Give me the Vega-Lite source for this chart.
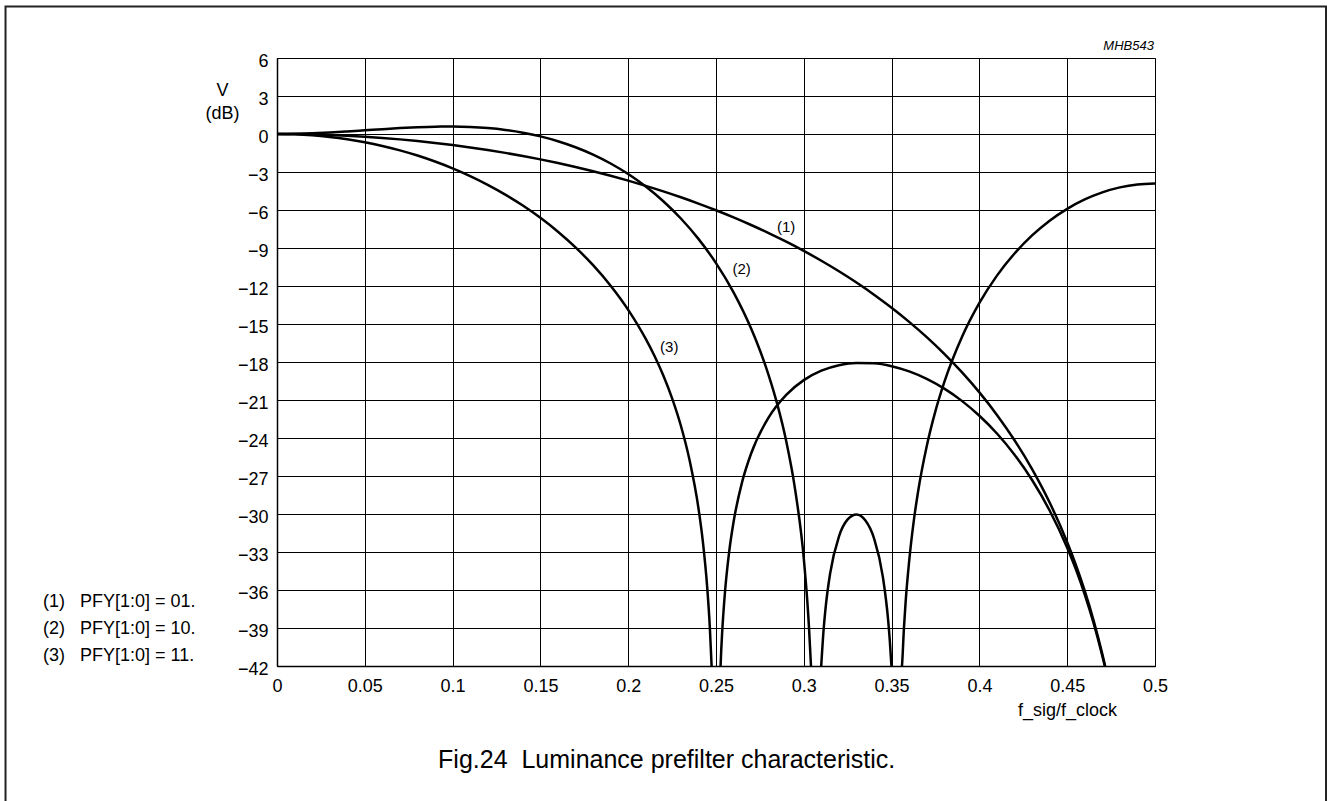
{
  "$schema": "https://vega.github.io/schema/vega-lite/v6.json",
  "width": 878,
  "height": 608,
  "autosize": {"type": "none"},
  "padding": {"left": 277, "top": 58, "right": 172, "bottom": 135},
  "background": "white",
  "config": {
    "font": "Liberation Sans",
    "view": {"stroke": "black", "strokeWidth": 1},
    "axis": {
      "labelFont": "Liberation Sans",
      "titleFont": "Liberation Sans",
      "labelColor": "#000",
      "titleColor": "#000",
      "labelFontSize": 18,
      "titleFontSize": 18,
      "titleFontWeight": "normal",
      "ticks": false,
      "tickSize": 0,
      "domainColor": "#000",
      "domainWidth": 1.5,
      "grid": true,
      "gridColor": "#000",
      "gridOpacity": 1,
      "gridWidth": 1,
      "labelOverlap": false
    }
  },
  "layer": [
    {
      "data": {"values": [{}]},
      "mark": {"type": "rect", "filled": false, "stroke": "#222", "strokeWidth": 2, "clip": false},
      "encoding": {
        "x": {"datum": -0.1546, "type": "quantitative"},
        "x2": {"datum": 0.5974},
        "y": {"datum": 10.07, "type": "quantitative"},
        "y2": {"datum": -53.4}
      }
    },
    {
      "data": {
        "values": [
          {"curve": "1", "seg": "1", "f": 0, "v": 0},
          {"curve": "1", "seg": "1", "f": 0.01, "v": -0.009},
          {"curve": "1", "seg": "1", "f": 0.02, "v": -0.034},
          {"curve": "1", "seg": "1", "f": 0.03, "v": -0.077},
          {"curve": "1", "seg": "1", "f": 0.04, "v": -0.138},
          {"curve": "1", "seg": "1", "f": 0.05, "v": -0.215},
          {"curve": "1", "seg": "1", "f": 0.06, "v": -0.31},
          {"curve": "1", "seg": "1", "f": 0.07, "v": -0.424},
          {"curve": "1", "seg": "1", "f": 0.08, "v": -0.554},
          {"curve": "1", "seg": "1", "f": 0.09, "v": -0.704},
          {"curve": "1", "seg": "1", "f": 0.10, "v": -0.872},
          {"curve": "1", "seg": "1", "f": 0.11, "v": -1.059},
          {"curve": "1", "seg": "1", "f": 0.12, "v": -1.265},
          {"curve": "1", "seg": "1", "f": 0.13, "v": -1.491},
          {"curve": "1", "seg": "1", "f": 0.14, "v": -1.738},
          {"curve": "1", "seg": "1", "f": 0.15, "v": -2.005},
          {"curve": "1", "seg": "1", "f": 0.16, "v": -2.294},
          {"curve": "1", "seg": "1", "f": 0.17, "v": -2.605},
          {"curve": "1", "seg": "1", "f": 0.18, "v": -2.94},
          {"curve": "1", "seg": "1", "f": 0.19, "v": -3.298},
          {"curve": "1", "seg": "1", "f": 0.20, "v": -3.682},
          {"curve": "1", "seg": "1", "f": 0.21, "v": -4.092},
          {"curve": "1", "seg": "1", "f": 0.22, "v": -4.529},
          {"curve": "1", "seg": "1", "f": 0.23, "v": -4.995},
          {"curve": "1", "seg": "1", "f": 0.24, "v": -5.492},
          {"curve": "1", "seg": "1", "f": 0.25, "v": -6.021},
          {"curve": "1", "seg": "1", "f": 0.26, "v": -6.584},
          {"curve": "1", "seg": "1", "f": 0.27, "v": -7.184},
          {"curve": "1", "seg": "1", "f": 0.28, "v": -7.823},
          {"curve": "1", "seg": "1", "f": 0.29, "v": -8.504},
          {"curve": "1", "seg": "1", "f": 0.30, "v": -9.231},
          {"curve": "1", "seg": "1", "f": 0.31, "v": -10.008},
          {"curve": "1", "seg": "1", "f": 0.32, "v": -10.839},
          {"curve": "1", "seg": "1", "f": 0.33, "v": -11.73},
          {"curve": "1", "seg": "1", "f": 0.34, "v": -12.687},
          {"curve": "1", "seg": "1", "f": 0.35, "v": -13.718},
          {"curve": "1", "seg": "1", "f": 0.36, "v": -14.833},
          {"curve": "1", "seg": "1", "f": 0.37, "v": -16.041},
          {"curve": "1", "seg": "1", "f": 0.38, "v": -17.359},
          {"curve": "1", "seg": "1", "f": 0.39, "v": -18.805},
          {"curve": "1", "seg": "1", "f": 0.40, "v": -20.401},
          {"curve": "1", "seg": "1", "f": 0.41, "v": -22.176},
          {"curve": "1", "seg": "1", "f": 0.42, "v": -24.174},
          {"curve": "1", "seg": "1", "f": 0.43, "v": -26.45},
          {"curve": "1", "seg": "1", "f": 0.44, "v": -29.091},
          {"curve": "1", "seg": "1", "f": 0.45, "v": -32.227},
          {"curve": "1", "seg": "1", "f": 0.455, "v": -34.04},
          {"curve": "1", "seg": "1", "f": 0.46, "v": -36.077},
          {"curve": "1", "seg": "1", "f": 0.465, "v": -38.386},
          {"curve": "1", "seg": "1", "f": 0.47, "v": -41.055},
          {"curve": "1", "seg": "1", "f": 0.4716, "v": -42},

          {"curve": "2", "seg": "2a", "f": 0, "v": 0},
          {"curve": "2", "seg": "2a", "f": 0.01, "v": 0.014},
          {"curve": "2", "seg": "2a", "f": 0.02, "v": 0.054},
          {"curve": "2", "seg": "2a", "f": 0.03, "v": 0.117},
          {"curve": "2", "seg": "2a", "f": 0.04, "v": 0.197},
          {"curve": "2", "seg": "2a", "f": 0.05, "v": 0.288},
          {"curve": "2", "seg": "2a", "f": 0.06, "v": 0.381},
          {"curve": "2", "seg": "2a", "f": 0.07, "v": 0.467},
          {"curve": "2", "seg": "2a", "f": 0.08, "v": 0.536},
          {"curve": "2", "seg": "2a", "f": 0.09, "v": 0.58},
          {"curve": "2", "seg": "2a", "f": 0.10, "v": 0.589},
          {"curve": "2", "seg": "2a", "f": 0.11, "v": 0.555},
          {"curve": "2", "seg": "2a", "f": 0.12, "v": 0.468},
          {"curve": "2", "seg": "2a", "f": 0.13, "v": 0.32},
          {"curve": "2", "seg": "2a", "f": 0.14, "v": 0.103},
          {"curve": "2", "seg": "2a", "f": 0.15, "v": -0.19},
          {"curve": "2", "seg": "2a", "f": 0.16, "v": -0.571},
          {"curve": "2", "seg": "2a", "f": 0.17, "v": -1.047},
          {"curve": "2", "seg": "2a", "f": 0.18, "v": -1.629},
          {"curve": "2", "seg": "2a", "f": 0.19, "v": -2.33},
          {"curve": "2", "seg": "2a", "f": 0.20, "v": -3.164},
          {"curve": "2", "seg": "2a", "f": 0.21, "v": -4.149},
          {"curve": "2", "seg": "2a", "f": 0.22, "v": -5.308},
          {"curve": "2", "seg": "2a", "f": 0.23, "v": -6.672},
          {"curve": "2", "seg": "2a", "f": 0.24, "v": -8.28},
          {"curve": "2", "seg": "2a", "f": 0.25, "v": -10.194},
          {"curve": "2", "seg": "2a", "f": 0.26, "v": -12.504},
          {"curve": "2", "seg": "2a", "f": 0.27, "v": -15.361},
          {"curve": "2", "seg": "2a", "f": 0.275, "v": -17.075},
          {"curve": "2", "seg": "2a", "f": 0.28, "v": -19.053},
          {"curve": "2", "seg": "2a", "f": 0.285, "v": -21.389},
          {"curve": "2", "seg": "2a", "f": 0.29, "v": -24.253},
          {"curve": "2", "seg": "2a", "f": 0.295, "v": -28.014},
          {"curve": "2", "seg": "2a", "f": 0.30, "v": -33.52},
          {"curve": "2", "seg": "2a", "f": 0.3025, "v": -37.91},
          {"curve": "2", "seg": "2a", "f": 0.303, "v": -39.07},
          {"curve": "2", "seg": "2a", "f": 0.3041, "v": -42},

          {"curve": "2", "seg": "2b", "f": 0.3099, "v": -42},
          {"curve": "2", "seg": "2b", "f": 0.31, "v": -41.79},
          {"curve": "2", "seg": "2b", "f": 0.311, "v": -39.64},
          {"curve": "2", "seg": "2b", "f": 0.3125, "v": -37.3},
          {"curve": "2", "seg": "2b", "f": 0.315, "v": -34.69},
          {"curve": "2", "seg": "2b", "f": 0.32, "v": -31.78},
          {"curve": "2", "seg": "2b", "f": 0.325, "v": -30.43},
          {"curve": "2", "seg": "2b", "f": 0.33, "v": -30.04},
          {"curve": "2", "seg": "2b", "f": 0.335, "v": -30.5},
          {"curve": "2", "seg": "2b", "f": 0.34, "v": -31.93},
          {"curve": "2", "seg": "2b", "f": 0.345, "v": -34.94},
          {"curve": "2", "seg": "2b", "f": 0.348, "v": -38.33},
          {"curve": "2", "seg": "2b", "f": 0.349, "v": -40.04},
          {"curve": "2", "seg": "2b", "f": 0.3499, "v": -42},

          {"curve": "2", "seg": "2c", "f": 0.3559, "v": -42},
          {"curve": "2", "seg": "2c", "f": 0.356, "v": -41.82},
          {"curve": "2", "seg": "2c", "f": 0.357, "v": -39.07},
          {"curve": "2", "seg": "2c", "f": 0.358, "v": -36.92},
          {"curve": "2", "seg": "2c", "f": 0.36, "v": -33.72},
          {"curve": "2", "seg": "2c", "f": 0.3625, "v": -30.68},
          {"curve": "2", "seg": "2c", "f": 0.365, "v": -28.3},
          {"curve": "2", "seg": "2c", "f": 0.37, "v": -24.65},
          {"curve": "2", "seg": "2c", "f": 0.375, "v": -21.86},
          {"curve": "2", "seg": "2c", "f": 0.38, "v": -19.595},
          {"curve": "2", "seg": "2c", "f": 0.39, "v": -16.045},
          {"curve": "2", "seg": "2c", "f": 0.40, "v": -13.335},
          {"curve": "2", "seg": "2c", "f": 0.41, "v": -11.181},
          {"curve": "2", "seg": "2c", "f": 0.42, "v": -9.435},
          {"curve": "2", "seg": "2c", "f": 0.43, "v": -8.008},
          {"curve": "2", "seg": "2c", "f": 0.44, "v": -6.844},
          {"curve": "2", "seg": "2c", "f": 0.45, "v": -5.906},
          {"curve": "2", "seg": "2c", "f": 0.46, "v": -5.166},
          {"curve": "2", "seg": "2c", "f": 0.47, "v": -4.607},
          {"curve": "2", "seg": "2c", "f": 0.48, "v": -4.216},
          {"curve": "2", "seg": "2c", "f": 0.49, "v": -3.984},
          {"curve": "2", "seg": "2c", "f": 0.50, "v": -3.907},

          {"curve": "3", "seg": "3a", "f": 0, "v": 0},
          {"curve": "3", "seg": "3a", "f": 0.01, "v": -0.026},
          {"curve": "3", "seg": "3a", "f": 0.02, "v": -0.103},
          {"curve": "3", "seg": "3a", "f": 0.03, "v": -0.233},
          {"curve": "3", "seg": "3a", "f": 0.04, "v": -0.415},
          {"curve": "3", "seg": "3a", "f": 0.05, "v": -0.651},
          {"curve": "3", "seg": "3a", "f": 0.06, "v": -0.943},
          {"curve": "3", "seg": "3a", "f": 0.07, "v": -1.292},
          {"curve": "3", "seg": "3a", "f": 0.08, "v": -1.701},
          {"curve": "3", "seg": "3a", "f": 0.09, "v": -2.174},
          {"curve": "3", "seg": "3a", "f": 0.10, "v": -2.713},
          {"curve": "3", "seg": "3a", "f": 0.11, "v": -3.323},
          {"curve": "3", "seg": "3a", "f": 0.12, "v": -4.011},
          {"curve": "3", "seg": "3a", "f": 0.13, "v": -4.783},
          {"curve": "3", "seg": "3a", "f": 0.14, "v": -5.649},
          {"curve": "3", "seg": "3a", "f": 0.15, "v": -6.62},
          {"curve": "3", "seg": "3a", "f": 0.16, "v": -7.713},
          {"curve": "3", "seg": "3a", "f": 0.17, "v": -8.949},
          {"curve": "3", "seg": "3a", "f": 0.18, "v": -10.356},
          {"curve": "3", "seg": "3a", "f": 0.19, "v": -11.978},
          {"curve": "3", "seg": "3a", "f": 0.20, "v": -13.882},
          {"curve": "3", "seg": "3a", "f": 0.21, "v": -16.178},
          {"curve": "3", "seg": "3a", "f": 0.215, "v": -17.53},
          {"curve": "3", "seg": "3a", "f": 0.22, "v": -19.074},
          {"curve": "3", "seg": "3a", "f": 0.225, "v": -20.871},
          {"curve": "3", "seg": "3a", "f": 0.23, "v": -23.033},
          {"curve": "3", "seg": "3a", "f": 0.235, "v": -25.781},
          {"curve": "3", "seg": "3a", "f": 0.24, "v": -29.534},
          {"curve": "3", "seg": "3a", "f": 0.2425, "v": -32.16},
          {"curve": "3", "seg": "3a", "f": 0.245, "v": -35.81},
          {"curve": "3", "seg": "3a", "f": 0.2465, "v": -38.99},
          {"curve": "3", "seg": "3a", "f": 0.2475, "v": -42},

          {"curve": "3", "seg": "3b", "f": 0.2526, "v": -42},
          {"curve": "3", "seg": "3b", "f": 0.253, "v": -40.68},
          {"curve": "3", "seg": "3b", "f": 0.2535, "v": -39.37},
          {"curve": "3", "seg": "3b", "f": 0.255, "v": -36.357},
          {"curve": "3", "seg": "3b", "f": 0.2575, "v": -32.98},
          {"curve": "3", "seg": "3b", "f": 0.26, "v": -30.626},
          {"curve": "3", "seg": "3b", "f": 0.265, "v": -27.409},
          {"curve": "3", "seg": "3b", "f": 0.27, "v": -25.222},
          {"curve": "3", "seg": "3b", "f": 0.28, "v": -22.368},
          {"curve": "3", "seg": "3b", "f": 0.29, "v": -20.591},
          {"curve": "3", "seg": "3b", "f": 0.30, "v": -19.432},
          {"curve": "3", "seg": "3b", "f": 0.31, "v": -18.688},
          {"curve": "3", "seg": "3b", "f": 0.32, "v": -18.255},
          {"curve": "3", "seg": "3b", "f": 0.33, "v": -18.074},
          {"curve": "3", "seg": "3b", "f": 0.34, "v": -18.107},
          {"curve": "3", "seg": "3b", "f": 0.35, "v": -18.334},
          {"curve": "3", "seg": "3b", "f": 0.36, "v": -18.744},
          {"curve": "3", "seg": "3b", "f": 0.37, "v": -19.333},
          {"curve": "3", "seg": "3b", "f": 0.38, "v": -20.105},
          {"curve": "3", "seg": "3b", "f": 0.39, "v": -21.069},
          {"curve": "3", "seg": "3b", "f": 0.40, "v": -22.242},
          {"curve": "3", "seg": "3b", "f": 0.41, "v": -23.646},
          {"curve": "3", "seg": "3b", "f": 0.42, "v": -25.321},
          {"curve": "3", "seg": "3b", "f": 0.43, "v": -27.319},
          {"curve": "3", "seg": "3b", "f": 0.44, "v": -29.724},
          {"curve": "3", "seg": "3b", "f": 0.45, "v": -32.663},
          {"curve": "3", "seg": "3b", "f": 0.455, "v": -34.39},
          {"curve": "3", "seg": "3b", "f": 0.46, "v": -36.354},
          {"curve": "3", "seg": "3b", "f": 0.465, "v": -38.598},
          {"curve": "3", "seg": "3b", "f": 0.47, "v": -41.21},
          {"curve": "3", "seg": "3b", "f": 0.4714, "v": -42}
        ]
      },
      "mark": {"type": "line", "color": "#000", "strokeWidth": 2.5, "interpolate": "monotone"},
      "encoding": {
        "x": {
          "field": "f",
          "type": "quantitative",
          "scale": {"domain": [0, 0.5], "nice": false, "zero": false},
          "axis": {
            "grid": true,
            "values": [0, 0.05, 0.1, 0.15, 0.2, 0.25, 0.3, 0.35, 0.4, 0.45, 0.5],
            "tickCount": 50,
            "format": "~g",
            "labelPadding": 11,
            "labelFlush": false,
            "labelOverlap": false,
            "title": "f_sig/f_clock",
            "titleX": 790,
            "titleY": 49,
            "titleAlign": "center",
            "titleBaseline": "alphabetic"
          }
        },
        "y": {
          "field": "v",
          "type": "quantitative",
          "scale": {"domain": [-42, 6], "nice": false, "zero": false},
          "axis": {
            "grid": true,
            "values": [-42, -39, -36, -33, -30, -27, -24, -21, -18, -15, -12, -9, -6, -3, 0, 3, 6],
            "tickCount": 50,
            "format": "~g",
            "labelPadding": 9,
            "labelOffset": 3,
            "labelFlush": false,
            "labelOverlap": false,
            "title": ["V", "(dB)"],
            "titleAngle": 0,
            "titleX": -55,
            "titleY": 23,
            "titleAlign": "center",
            "titleBaseline": "top",
            "titleLineHeight": 23.7
          }
        },
        "detail": {"field": "seg", "type": "nominal"}
      }
    },
    {
      "data": {"values": [{}]},
      "mark": {"type": "text", "fontSize": 15, "font": "Liberation Sans", "color": "#000", "align": "center", "baseline": "middle"},
      "encoding": {"x": {"datum": 0.2899, "type": "quantitative"}, "y": {"datum": -7.32, "type": "quantitative"}, "text": {"value": "(1)"}}
    },
    {
      "data": {"values": [{}]},
      "mark": {"type": "text", "fontSize": 15, "font": "Liberation Sans", "color": "#000", "align": "center", "baseline": "middle"},
      "encoding": {"x": {"datum": 0.2646, "type": "quantitative"}, "y": {"datum": -10.66, "type": "quantitative"}, "text": {"value": "(2)"}}
    },
    {
      "data": {"values": [{}]},
      "mark": {"type": "text", "fontSize": 15, "font": "Liberation Sans", "color": "#000", "align": "center", "baseline": "middle"},
      "encoding": {"x": {"datum": 0.2234, "type": "quantitative"}, "y": {"datum": -16.79, "type": "quantitative"}, "text": {"value": "(3)"}}
    },
    {
      "data": {"values": [{}]},
      "mark": {"type": "text", "fontSize": 13, "font": "Liberation Sans", "fontStyle": "italic", "color": "#000", "align": "right", "baseline": "alphabetic"},
      "encoding": {"x": {"datum": 0.4994, "type": "quantitative"}, "y": {"datum": 6.63, "type": "quantitative"}, "text": {"value": "MHB543"}}
    },
    {
      "data": {"values": [{}]},
      "mark": {"type": "text", "fontSize": 18, "font": "Liberation Sans", "color": "#000", "align": "left", "baseline": "middle"},
      "encoding": {"x": {"datum": -0.1333, "type": "quantitative"}, "y": {"datum": -36.95, "type": "quantitative"}, "text": {"value": "(1)"}}
    },
    {
      "data": {"values": [{}]},
      "mark": {"type": "text", "fontSize": 18, "font": "Liberation Sans", "color": "#000", "align": "left", "baseline": "middle"},
      "encoding": {"x": {"datum": -0.1122, "type": "quantitative"}, "y": {"datum": -36.95, "type": "quantitative"}, "text": {"value": "PFY[1:0] = 01."}}
    },
    {
      "data": {"values": [{}]},
      "mark": {"type": "text", "fontSize": 18, "font": "Liberation Sans", "color": "#000", "align": "left", "baseline": "middle"},
      "encoding": {"x": {"datum": -0.1333, "type": "quantitative"}, "y": {"datum": -39.08, "type": "quantitative"}, "text": {"value": "(2)"}}
    },
    {
      "data": {"values": [{}]},
      "mark": {"type": "text", "fontSize": 18, "font": "Liberation Sans", "color": "#000", "align": "left", "baseline": "middle"},
      "encoding": {"x": {"datum": -0.1122, "type": "quantitative"}, "y": {"datum": -39.08, "type": "quantitative"}, "text": {"value": "PFY[1:0] = 10."}}
    },
    {
      "data": {"values": [{}]},
      "mark": {"type": "text", "fontSize": 18, "font": "Liberation Sans", "color": "#000", "align": "left", "baseline": "middle"},
      "encoding": {"x": {"datum": -0.1333, "type": "quantitative"}, "y": {"datum": -41.21, "type": "quantitative"}, "text": {"value": "(3)"}}
    },
    {
      "data": {"values": [{}]},
      "mark": {"type": "text", "fontSize": 18, "font": "Liberation Sans", "color": "#000", "align": "left", "baseline": "middle"},
      "encoding": {"x": {"datum": -0.1122, "type": "quantitative"}, "y": {"datum": -41.21, "type": "quantitative"}, "text": {"value": "PFY[1:0] = 11."}}
    },
    {
      "data": {"values": [{}]},
      "mark": {"type": "text", "fontSize": 25, "font": "Liberation Sans", "color": "#000", "align": "center", "baseline": "middle"},
      "encoding": {"x": {"datum": 0.2219, "type": "quantitative"}, "y": {"datum": -49.45, "type": "quantitative"}, "text": {"value": "Fig.24\u00a0\u00a0Luminance prefilter characteristic."}}
    }
  ]
}
